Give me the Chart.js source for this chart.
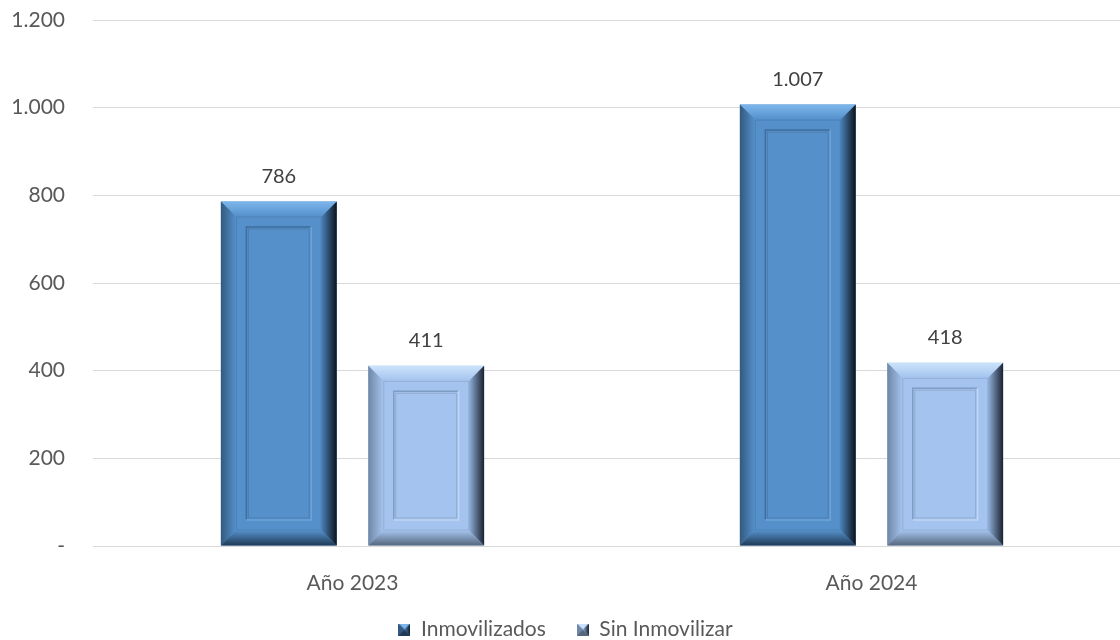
<!DOCTYPE html>
<html>
<head>
<meta charset="utf-8">
<script src="https://cdn.jsdelivr.net/npm/chart.js@4/dist/chart.umd.min.js"></script>
<style>
html,body{margin:0;padding:0;background:#fff;overflow:hidden;width:1120px;height:640px;}
canvas{display:block;}
</style>
</head>
<body>
<canvas id="c" width="1131" height="640" style="width:1131px;height:640px"></canvas>
<script>
const categories = ['Año 2023', 'Año 2024'];
const seriesNames = ['Inmovilizados', 'Sin Inmovilizar'];
const inmovilizados = [786, 1007];
const sinInmovilizar = [411, 418];
const yTickValues = [0, 200, 400, 600, 800, 1000, 1200];

function fmt(v) {
  if (v === 0) return '-';
  return String(v).replace(/\B(?=(\d{3})+(?!\d))/g, '.');
}

const FONT = 'Lato, "Noto Sans", sans-serif';

const palettes = [
  { main: '#5590CA', top: '#7DB6EC', left: '#33597F', bottom: '#1F3A56', rIn: '#4A7FB4', rOut: '#0B141E', inner: '#3D6E9F', innerHi: '#6EA3D6' },
  { main: '#A4C3EE', top: '#CBE3FB', left: '#6F87A6', bottom: '#56677D', rIn: '#90B0DA', rOut: '#1A2230', inner: '#7F9DC4', innerHi: '#BFD6F4' }
];

function makeIcon(p) {
  const c = document.createElement('canvas');
  c.width = 12; c.height = 12;
  const g = c.getContext('2d');
  const s = 12, m = 6;
  g.fillStyle = p.main; g.fillRect(0, 0, s, s);
  g.fillStyle = p.top; g.beginPath(); g.moveTo(0,0); g.lineTo(s,0); g.lineTo(m,m); g.closePath(); g.fill();
  g.fillStyle = p.left; g.beginPath(); g.moveTo(0,0); g.lineTo(m,m); g.lineTo(0,s); g.closePath(); g.fill();
  g.fillStyle = p.bottom; g.beginPath(); g.moveTo(0,s); g.lineTo(s,s); g.lineTo(m,m); g.closePath(); g.fill();
  const gr = g.createLinearGradient(m, 0, s, 0);
  gr.addColorStop(0, p.rIn); gr.addColorStop(1, p.rOut);
  g.fillStyle = gr; g.beginPath(); g.moveTo(s,0); g.lineTo(m,m); g.lineTo(s,s); g.closePath(); g.fill();
  return c;
}
const icons = palettes.map(makeIcon);

const bevelPlugin = {
  id: 'bevel',
  afterDatasetsDraw(chart) {
    const ctx = chart.ctx;
    chart.data.datasets.forEach((ds, di) => {
      const meta = chart.getDatasetMeta(di);
      const p = palettes[di];
      meta.data.forEach((el) => {
        const pr = el.getProps(['x', 'y', 'width', 'base'], true);
        const L = pr.x - pr.width / 2, R = pr.x + pr.width / 2, T = pr.y, B = pr.base;
        const b = 15, ins = 25;
        ctx.save();
        let g = ctx.createLinearGradient(0, T, 0, T + b);
        g.addColorStop(0, p.top); g.addColorStop(1, p.main);
        ctx.fillStyle = g;
        ctx.beginPath(); ctx.moveTo(L, T); ctx.lineTo(R, T); ctx.lineTo(R - b, T + b); ctx.lineTo(L + b, T + b); ctx.closePath(); ctx.fill();
        g = ctx.createLinearGradient(L, 0, L + b, 0);
        g.addColorStop(0, p.left); g.addColorStop(1, p.main);
        ctx.fillStyle = g;
        ctx.beginPath(); ctx.moveTo(L, T); ctx.lineTo(L + b, T + b); ctx.lineTo(L + b, B - b); ctx.lineTo(L, B); ctx.closePath(); ctx.fill();
        g = ctx.createLinearGradient(0, B - b, 0, B);
        g.addColorStop(0, p.main); g.addColorStop(1, p.bottom);
        ctx.fillStyle = g;
        ctx.beginPath(); ctx.moveTo(L, B); ctx.lineTo(R, B); ctx.lineTo(R - b, B - b); ctx.lineTo(L + b, B - b); ctx.closePath(); ctx.fill();
        g = ctx.createLinearGradient(R - b, 0, R, 0);
        g.addColorStop(0, p.rIn); g.addColorStop(1, p.rOut);
        ctx.fillStyle = g;
        ctx.beginPath(); ctx.moveTo(R, T); ctx.lineTo(R - b, T + b); ctx.lineTo(R - b, B - b); ctx.lineTo(R, B); ctx.closePath(); ctx.fill();
        ctx.strokeStyle = 'rgba(0,0,0,0.10)';
        ctx.lineWidth = 1;
        ctx.strokeRect(L + b + 0.5, T + b + 0.5, (R - L) - 2 * b - 1, (B - T) - 2 * b - 1);
        const iL = L + ins, iR = R - ins, iT = T + ins, iB = B - ins;
        if (iB > iT) {
          ctx.strokeStyle = p.inner;
          ctx.lineWidth = 1.5;
          ctx.beginPath(); ctx.moveTo(iL + 0.5, iB); ctx.lineTo(iL + 0.5, iT + 0.5); ctx.lineTo(iR, iT + 0.5); ctx.stroke();
          ctx.strokeStyle = p.innerHi;
          ctx.beginPath(); ctx.moveTo(iR - 0.5, iT); ctx.lineTo(iR - 0.5, iB - 0.5); ctx.lineTo(iL, iB - 0.5); ctx.stroke();
          ctx.strokeStyle = 'rgba(0,0,0,0.12)';
          ctx.lineWidth = 1;
          ctx.strokeRect(iL + 2.5, iT + 2.5, iR - iL - 5, iB - iT - 5);
        }
        ctx.restore();
      });
    });
  }
};

const labelPlugin = {
  id: 'valueLabels',
  afterDatasetsDraw(chart) {
    const ctx = chart.ctx;
    ctx.save();
    ctx.font = '20px ' + FONT;
    ctx.fillStyle = '#404040';
    ctx.textAlign = 'center';
    ctx.textBaseline = 'middle';
    chart.data.datasets.forEach((ds, di) => {
      const meta = chart.getDatasetMeta(di);
      meta.data.forEach((el, i) => {
        const pr = el.getProps(['x', 'y'], true);
        ctx.fillText(fmt(ds.data[i]), pr.x, pr.y - 25);
      });
    });
    ctx.restore();
  }
};

// let x-axis labels overflow their (tight) box instead of being clipped
const unclipXLabels = {
  id: 'unclipXLabels',
  afterLayout(chart) {
    const xs = chart.scales.x;
    xs.bottom = chart.height;
  }
};

new Chart(document.getElementById('c'), {
  type: 'bar',
  data: {
    labels: categories,
    datasets: [
      { label: seriesNames[0], data: inmovilizados, backgroundColor: palettes[0].main, borderWidth: 0, categoryPercentage: 0.568, barPercentage: 0.786 },
      { label: seriesNames[1], data: sinInmovilizar, backgroundColor: palettes[1].main, borderWidth: 0, categoryPercentage: 0.568, barPercentage: 0.786 }
    ]
  },
  options: {
    responsive: false,
    devicePixelRatio: 1,
    animation: false,
    layout: { padding: { top: 20, right: 0, bottom: -10, left: 0 } },
    plugins: {
      tooltip: { enabled: false },
      legend: {
        position: 'bottom',
        labels: {
          color: '#595959',
          font: { size: 21, family: FONT },
          usePointStyle: true,
          boxWidth: 12,
          boxHeight: 12,
          padding: 31,
          generateLabels(chart) {
            return chart.data.datasets.map((ds, i) => ({
              text: ds.label,
              pointStyle: icons[i],
              fillStyle: palettes[i].main,
              strokeStyle: palettes[i].main,
              lineWidth: 0,
              fontColor: '#595959',
              hidden: false,
              datasetIndex: i
            }));
          }
        }
      }
    },
    scales: {
      x: {
        grid: { display: false },
        border: { display: false },
        ticks: { color: '#595959', font: { size: 21, family: FONT }, padding: 17 },
        afterFit(s) { s.height = 42; s.paddingLeft = 0; s.paddingRight = 0; }
      },
      y: {
        min: 0, max: 1200,
        afterBuildTicks(s) { s.ticks = yTickValues.map(v => ({ value: v })); },
        ticks: { color: '#595959', font: { size: 21, family: FONT }, padding: 28, callback: (v) => fmt(v) },
        grid: { color: '#D9D9D9', lineWidth: 1, drawTicks: false },
        border: { display: false },
        afterFit(s) { s.width = 93; s.paddingTop = 0; s.paddingBottom = 0; }
      }
    }
  },
  plugins: [bevelPlugin, labelPlugin, unclipXLabels]
});
</script>
</body>
</html>
